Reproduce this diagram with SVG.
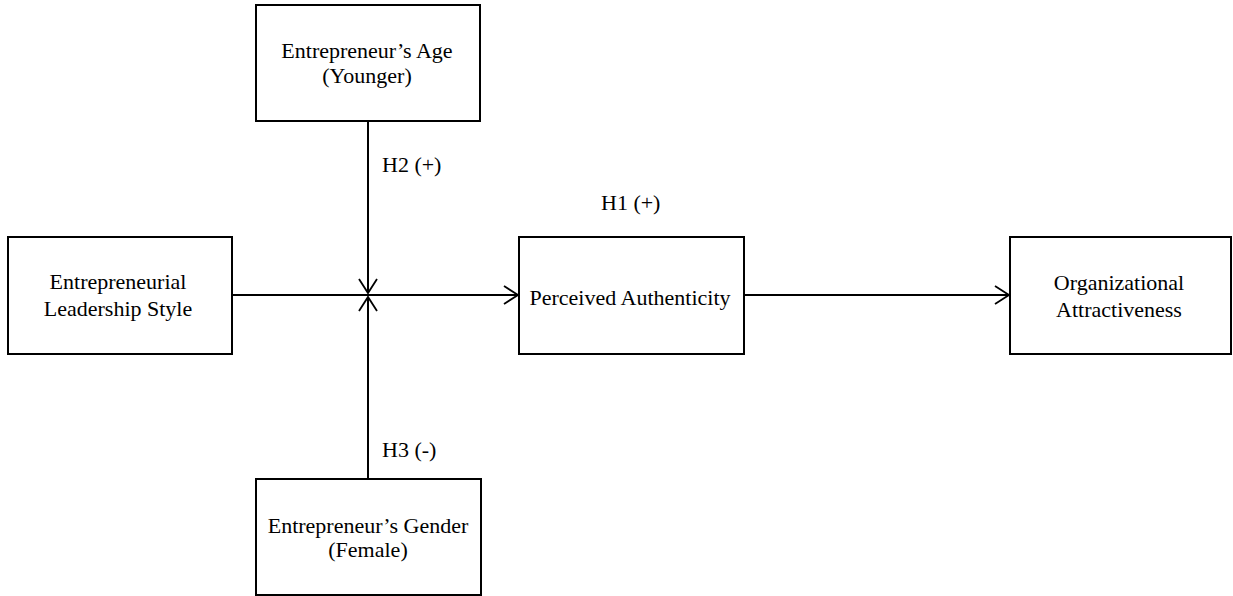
<svg xmlns="http://www.w3.org/2000/svg" width="1233" height="596" viewBox="0 0 1233 596">
<style>
.box{fill:#fff;stroke:#000;stroke-width:2}
.t{font-family:"Liberation Serif","Times New Roman",Times,serif;font-size:22px;fill:#000;text-anchor:middle}
.l{font-family:"Liberation Serif","Times New Roman",Times,serif;font-size:22px;fill:#000}
.c{stroke:#000;stroke-width:2;fill:none}
</style>
<defs>
<marker id="arr" markerWidth="18" markerHeight="22" refX="15" refY="10" orient="auto" markerUnits="userSpaceOnUse">
<path d="M1,1 L15,10 L1,19" fill="none" stroke="#000" stroke-width="1.8"/>
</marker>
</defs>
<rect width="1233" height="596" fill="#fff"/>
<g id="connectors">
<line class="c" x1="232" y1="295" x2="518" y2="295" marker-end="url(#arr)"/>
<line class="c" x1="744" y1="295" x2="1009" y2="295" marker-end="url(#arr)"/>
<line class="c" x1="368" y1="121" x2="368" y2="293" marker-end="url(#arr)"/>
<line class="c" x1="368" y1="479" x2="368" y2="297" marker-end="url(#arr)"/>
<text class="l" x="382" y="172">H2 (+)</text>
<text class="l" x="601" y="210">H1 (+)</text>
<text class="l" x="382" y="457">H3 (-)</text>
</g>
<g id="age"><rect class="box" x="256" y="5" width="224" height="116"/>
<text class="t" x="367" y="58">Entrepreneur’s Age</text><text class="t" x="367" y="83">(Younger)</text></g>
<g id="els"><rect class="box" x="8" y="237" width="224" height="117"/>
<text class="t" x="118" y="289">Entrepreneurial</text><text class="t" x="118" y="316">Leadership Style</text></g>
<g id="pa"><rect class="box" x="519" y="237" width="225" height="117"/>
<text class="t" x="630" y="305">Perceived Authenticity</text></g>
<g id="oa"><rect class="box" x="1010" y="237" width="221" height="117"/>
<text class="t" x="1119" y="290">Organizational</text><text class="t" x="1119" y="317">Attractiveness</text></g>
<g id="gender"><rect class="box" x="256" y="479" width="225" height="116"/>
<text class="t" x="368" y="533">Entrepreneur’s Gender</text><text class="t" x="368" y="557">(Female)</text></g>
</svg>
